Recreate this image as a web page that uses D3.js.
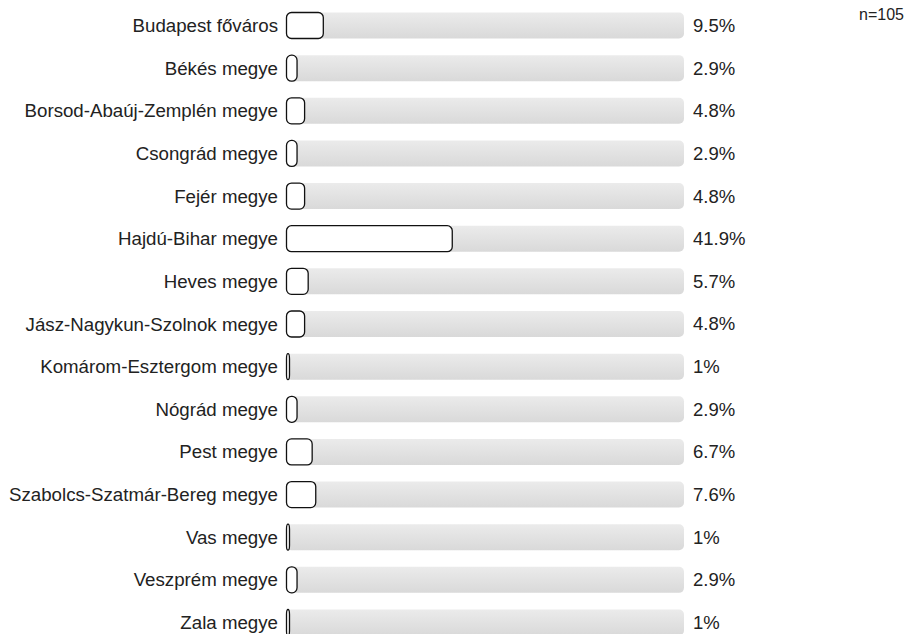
<!DOCTYPE html>
<html>
<head>
<meta charset="utf-8">
<script src="https://cdn.jsdelivr.net/npm/d3@7"></script>
<style>
  body { margin: 0; background: #fff; }
</style>
</head>
<body>
<div id="chart"></div>
<script>
// megyék és százalékok
const categories = [
    "Budapest főváros", "Békés megye", "Borsod-Abaúj-Zemplén megye", "Csongrád megye",
    "Fejér megye", "Hajdú-Bihar megye", "Heves megye", "Jász-Nagykun-Szolnok megye",
    "Komárom-Esztergom megye", "Nógrád megye", "Pest megye", "Szabolcs-Szatmár-Bereg megye",
    "Vas megye", "Veszprém megye", "Zala megye"
];
const values = [9.5, 2.9, 4.8, 2.9, 4.8, 41.9, 5.7, 4.8, 1, 2.9, 6.7, 7.6, 1, 2.9, 1];
const valueLabels = ["9.5%", "2.9%", "4.8%", "2.9%", "4.8%", "41.9%", "5.7%", "4.8%", "1%", "2.9%", "6.7%", "7.6%", "1%", "2.9%", "1%"];
const nLabel = "n=105";

const width = 907, height = 634;
const left = 286, barMax = 398;
const barH = 26;
const font = "'Liberation Sans', Arial, Helvetica, sans-serif";

const svg = d3.select("#chart").append("svg")
    .attr("width", width)
    .attr("height", height)
    .style("display", "block");

const defs = svg.append("defs");
const grad = defs.append("linearGradient")
    .attr("id", "track")
    .attr("x1", 0).attr("y1", 0).attr("x2", 0).attr("y2", 1);
grad.append("stop").attr("offset", "0%").attr("stop-color", "#ebebeb");
grad.append("stop").attr("offset", "100%").attr("stop-color", "#d9d9d9");

const x = d3.scaleLinear().domain([0, 100]).range([0, barMax]);
const y = d3.scaleBand()
    .domain(categories)
    .range([4.2, 4.2 + 42.64 * categories.length])
    .padding(0);

const rows = svg.selectAll(".row")
    .data(categories)
    .enter()
    .append("g")
    .attr("class", "row")
    .attr("transform", d => `translate(0,${y(d) + y.bandwidth() / 2})`);

// háttér sáv
rows.append("rect")
    .attr("x", left)
    .attr("y", -barH / 2)
    .attr("width", x(100))
    .attr("height", barH)
    .attr("rx", 5)
    .attr("fill", "url(#track)");

// érték sáv
rows.append("rect")
    .attr("x", left + 0.5)
    .attr("y", -barH / 2)
    .attr("width", (d, i) => Math.max(x(values[i]) - 1, 3))
    .attr("height", barH)
    .attr("rx", 5)
    .attr("fill", "#fff")
    .attr("stroke", "#111")
    .attr("stroke-width", 1.3);

rows.append("text")
    .attr("x", 278)
    .attr("dy", "0.35em")
    .attr("text-anchor", "end")
    .attr("font-family", font)
    .attr("font-size", 18.7)
    .attr("fill", "#222")
    .text(d => d);

rows.append("text")
    .attr("x", 693)
    .attr("dy", "0.35em")
    .attr("font-family", font)
    .attr("font-size", 18.5)
    .attr("fill", "#222")
    .text((d, i) => valueLabels[i]);

svg.append("text")
    .attr("x", 904)
    .attr("y", 20)
    .attr("text-anchor", "end")
    .attr("font-family", font)
    .attr("font-size", 16)
    .attr("fill", "#222")
    .text(nLabel);
</script>
</body>
</html>
